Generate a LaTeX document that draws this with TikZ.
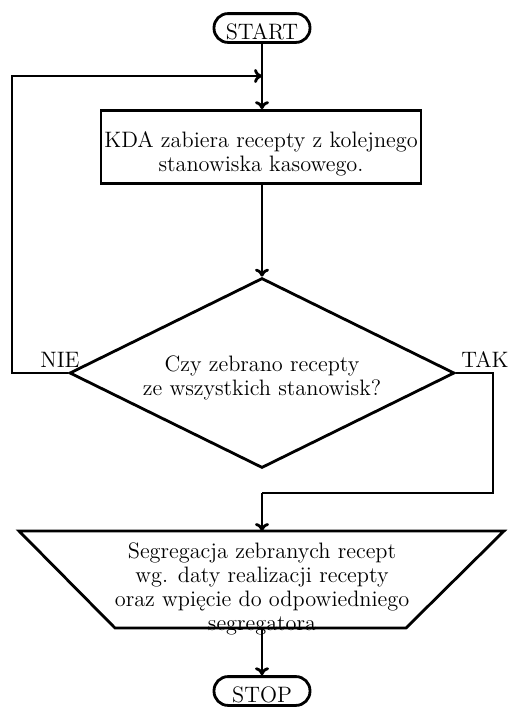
\documentclass[tikz,border=0pt]{standalone}
\usetikzlibrary{shapes.geometric,arrows.meta}
\begin{document}
\begin{tikzpicture}[x=0.02cm,y=-0.02cm,
  every node/.style={font=\fontsize{12.7}{13.6}\selectfont},
  line/.style={line width=1.6pt},
  arr/.style={line width=1.6pt,-{To[length=4.5pt,width=8pt]}},
  term/.style={draw,line width=1.6pt,rounded corners=8pt,minimum width=1.92cm,inner xsep=2pt,inner ysep=1.4pt,text height=13.6pt,text depth=0pt},
  proc/.style={draw,line width=1.6pt,minimum width=6.4cm,minimum height=1.46cm,inner sep=0pt},
  dec/.style={draw,line width=1.6pt,diamond,aspect=2,minimum width=7.7cm,minimum height=3.8cm,inner sep=0pt},
  txt/.style={align=center,inner sep=0pt},
  lab/.style={inner sep=1pt}]
\useasboundingbox (0,0) rectangle (509,711);
\node[term] (start) at (262,28) {START};
\node[proc] (kda) at (261,147) {};
\node[txt] (kdat) at (261,154) {KDA zabiera recepty z kolejnego\\stanowiska kasowego.};
\node[dec] (czy) at (262,373) {};
\node[txt] (czyt) at (262,378) {Czy zebrano recepty\\ze wszystkich stanowisk?};
\coordinate (segN) at (262,531);
\coordinate (segS) at (262,628);
\draw[line,line join=miter] (19,531) -- (504,531) -- (406,628) -- (115,628) -- cycle;
\node[txt] (segt) at (262,589) {Segregacja zebranych recept\\wg. daty realizacji recepty\\oraz wpięcie do odpowiedniego\\segregatora};
\node[term] (stop) at (262,691) {STOP};
\node[lab,anchor=south] (nie) at (60,370) {NIE};
\node[lab,anchor=south] (tak) at (485,370) {TAK};
\coordinate (j1) at (262,76);
\coordinate (l2) at (12,76);
\coordinate (r2) at (493,493);
\coordinate (r3) at (262,493);
\draw[arr] (start.south) -- (start.south |- kda.north);
\draw[arr] (kda.south -| czy.north) -- (czy.north);
\draw[arr] (czy.west) -- (czy.west -| l2) -- (l2) -- (j1);
\draw[line] (czy.east) -- (czy.east -| r2) -- (r2) -- (r3);
\draw[arr] (r3) -- (segN);
\draw[arr] (segS) -- (stop.north);
\end{tikzpicture}
\end{document}
